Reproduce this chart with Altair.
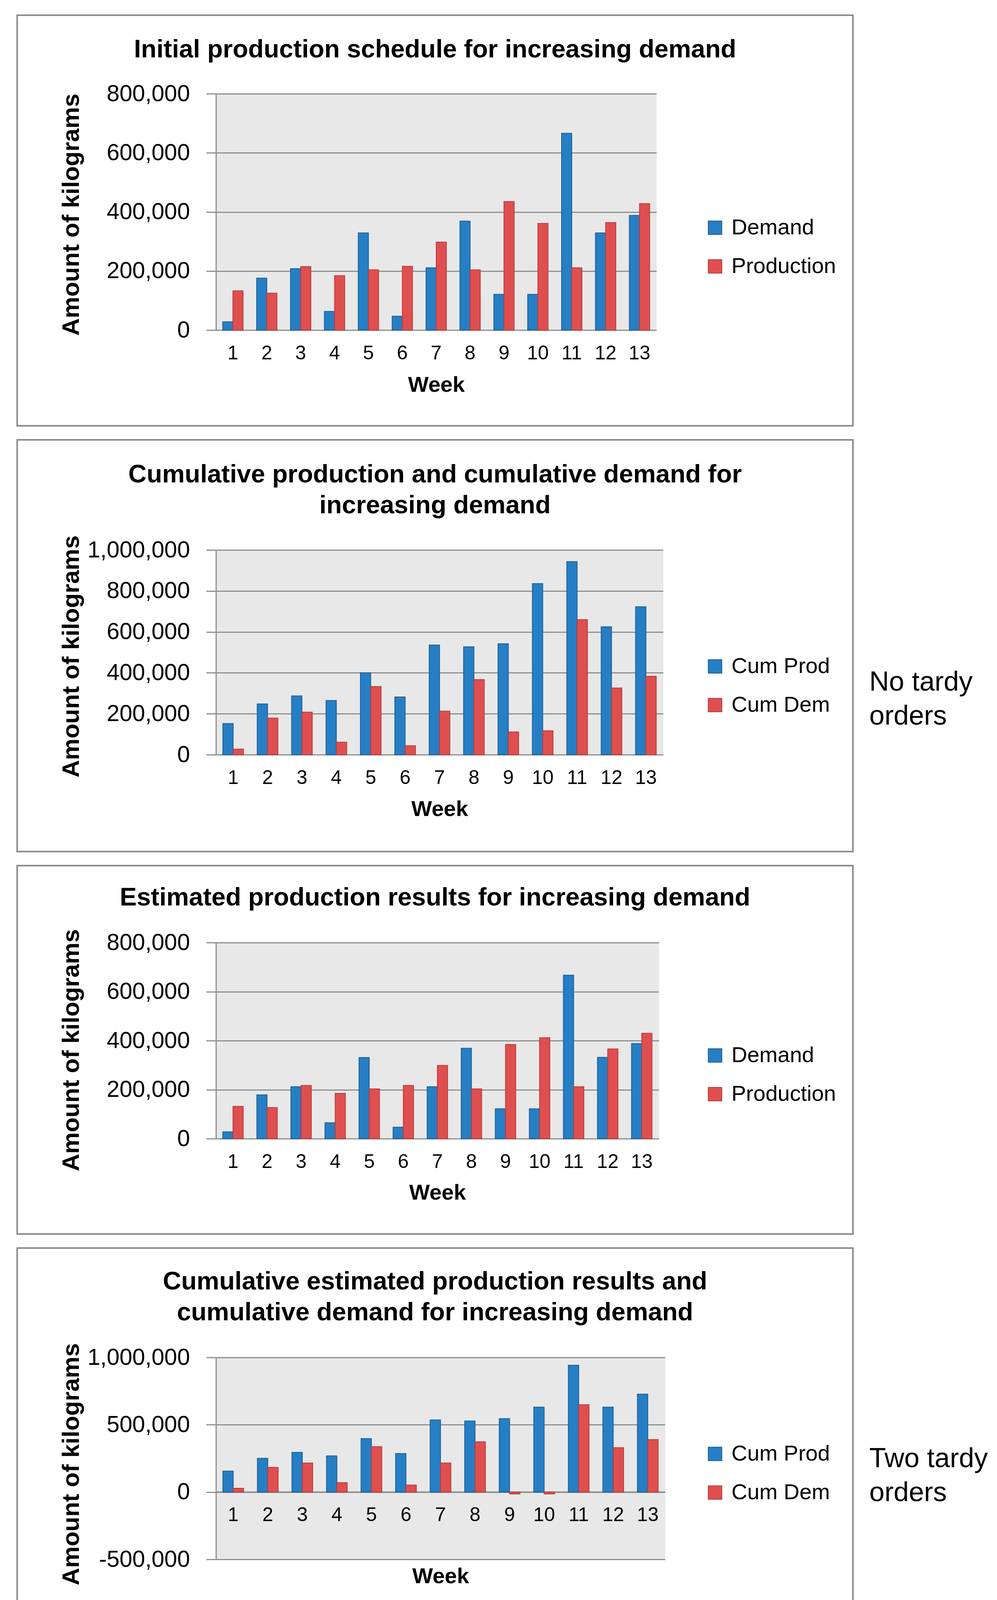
import altair as alt
import pandas as pd

# ---- data ----
weeks = list(range(1, 14))

initial_demand = [28000, 176000, 208000, 63000, 329000, 47000, 211000,
                  369000, 121000, 121000, 666000, 329000, 388000]
initial_production = [133000, 125000, 215000, 184000, 204000, 216000, 298000,
                      204000, 435000, 361000, 211000, 364000, 428000]

cum_prod_no_tardy = [152000, 248000, 287000, 265000, 400000, 282000, 536000,
                     527000, 542000, 836000, 943000, 625000, 723000]
cum_dem_no_tardy = [27000, 179000, 208000, 61000, 333000, 44000, 213000,
                    367000, 111000, 117000, 660000, 326000, 383000]

estimated_demand = [28000, 179000, 212000, 65000, 331000, 47000, 212000,
                    369000, 122000, 122000, 667000, 332000, 388000]
estimated_production = [132000, 127000, 217000, 185000, 203000, 217000, 299000,
                        203000, 384000, 412000, 212000, 366000, 430000]

cum_prod_two_tardy = [156000, 251000, 295000, 269000, 397000, 286000, 536000,
                      528000, 545000, 631000, 942000, 631000, 727000]
cum_dem_two_tardy = [28000, 183000, 216000, 70000, 337000, 52000, 216000,
                     373000, -14000, -14000, 649000, 330000, 390000]

ticks_800k = [0, 200000, 400000, 600000, 800000]
ticks_1m = [0, 200000, 400000, 600000, 800000, 1000000]
ticks_1m_neg = [-500000, 0, 500000, 1000000]

series_a = ['Demand', 'Production']
series_b = ['Cum Prod', 'Cum Dem']

# ---- style ----
FONT = 'Liberation Sans'
BLUE, RED = '#267fc4', '#e04f4f'
BLUE_EDGE, RED_EDGE = '#1a5d96', '#b73b3b'
GRID = '#8f8f8f'
FRAME = '#8a8a8a'
PLOT_LEFT = 552  # common left edge of every plot area


def long_frame(first, second, names):
    return pd.DataFrame({
        'Week': weeks * 2,
        'Series': [names[0]] * len(weeks) + [names[1]] * len(weeks),
        'Value': first + second,
    })


def panel(df, names, title_lines, width, height, domain, ticks, frame_top,
          frame_bottom, title_y, legend_y, axis_title_y, week_title_y,
          x_offset=0, note=None, note_y=0):
    one = pd.DataFrame({'k': [0]})

    frame = alt.Chart(one).mark_rect(
        fillOpacity=0, stroke=FRAME, strokeWidth=4
    ).encode(
        x=alt.value(43 - PLOT_LEFT), x2=alt.value(2183 - PLOT_LEFT),
        y=alt.value(frame_top), y2=alt.value(frame_bottom))

    title = alt.Chart(one).mark_text(
        text=title_lines, font=FONT, fontSize=65, fontWeight='bold',
        align='center', baseline='alphabetic', lineHeight=79, color='black'
    ).encode(x=alt.value(1113 - PLOT_LEFT), y=alt.value(title_y))

    legend = alt.Legend(title=None, orient='none',
                        legendX=1250, legendY=legend_y,
                        direction='vertical', symbolType='square',
                        symbolSize=1200, symbolStrokeWidth=2,
                        labelFont=FONT, labelFontSize=56, labelColor='black',
                        labelOffset=14, labelLimit=0, rowPadding=43,
                        padding=0)

    bars = alt.Chart(df).mark_bar(strokeWidth=2).encode(
        x=alt.X('Week:O',
                scale=alt.Scale(paddingInner=0.4, paddingOuter=0.2),
                axis=alt.Axis(title='Week', labelAngle=0, ticks=False,
                              tickSize=0, domainColor=GRID, domainWidth=3,
                              labelFont=FONT, labelFontSize=50,
                              labelColor='black', labelPadding=59,
                              labelBaseline='middle', labelLimit=0,
                              offset=x_offset,
                              titleFont=FONT, titleFontSize=56,
                              titleFontWeight='bold', titleColor='black',
                              titleY=week_title_y, titleBaseline='middle')),
        xOffset=alt.XOffset('Series:N',
                            scale=alt.Scale(domain=names, paddingInner=0,
                                            paddingOuter=0)),
        y=alt.Y('Value:Q',
                scale=alt.Scale(domain=domain, nice=False),
                axis=alt.Axis(values=ticks, grid=True, gridColor=GRID,
                              gridWidth=3, domainColor=GRID, domainWidth=3,
                              tickColor=GRID, tickWidth=3, tickSize=25,
                              labelFont=FONT, labelFontSize=59,
                              labelColor='black', labelPadding=42,
                              labelLimit=0,
                              labelExpr="datum.value < 0 ? '-' + format(-datum.value, ',d') : format(datum.value, ',d')",
                              title='Amount of kilograms', titleFont=FONT,
                              titleFontSize=62, titleFontWeight='bold',
                              titleColor='black', titleX=181 - PLOT_LEFT,
                              titleY=axis_title_y, titleAlign='center',
                              titleBaseline='middle', titleLimit=0)),
        fill=alt.Fill('Series:N',
                      scale=alt.Scale(domain=names, range=[BLUE, RED]),
                      legend=legend),
        stroke=alt.Stroke('Series:N',
                          scale=alt.Scale(domain=names,
                                          range=[BLUE_EDGE, RED_EDGE]),
                          legend=legend),
    )

    layers = [frame, title, bars]
    if note:
        layers.append(alt.Chart(one).mark_text(
            text=note, font=FONT, fontSize=70, align='left',
            baseline='alphabetic', lineHeight=87, color='black'
        ).encode(x=alt.value(2225 - PLOT_LEFT), y=alt.value(note_y)))

    return alt.layer(*layers).properties(width=width, height=height)


p1 = panel(long_frame(initial_demand, initial_production, series_a), series_a,
           ['Initial production schedule for increasing demand'],
           1128, 605, [0, 800000], ticks_800k, -201, 850, -93, 315, 309, 140)

p2 = panel(long_frame(cum_prod_no_tardy, cum_dem_no_tardy, series_b), series_b,
           ['Cumulative production and cumulative demand for',
            'increasing demand'],
           1145, 524, [0, 1000000], ticks_1m, -282, 772, -173, 270, 272, 139,
           note=['No tardy', 'orders'], note_y=360)

p3 = panel(long_frame(estimated_demand, estimated_production, series_a),
           series_a,
           ['Estimated production results for increasing demand'],
           1134, 502, [0, 800000], ticks_800k, -197, 746, -95, 261, 275, 138)

p4 = panel(long_frame(cum_prod_two_tardy, cum_dem_two_tardy, series_b),
           series_b,
           ['Cumulative estimated production results and',
            'cumulative demand for increasing demand'],
           1150, 517, [-500000, 1000000], ticks_1m_neg, -280, 665, -174, 219,
           273, 216, x_offset=-173, note=['Two tardy', 'orders'], note_y=281)

chart = alt.vconcat(p1, p2, p3, p4, spacing=30).resolve_scale(
    x='independent', y='independent', xOffset='independent',
    fill='independent', stroke='independent'
).resolve_legend(
    fill='independent', stroke='independent'
).properties(
    padding={'left': 33, 'top': 28, 'right': 0, 'bottom': 5},
    background='white',
).configure_view(fill='#e8e8e8', stroke='transparent')

chart.save('out.html', embed_options={'renderer': 'svg', 'actions': False})
